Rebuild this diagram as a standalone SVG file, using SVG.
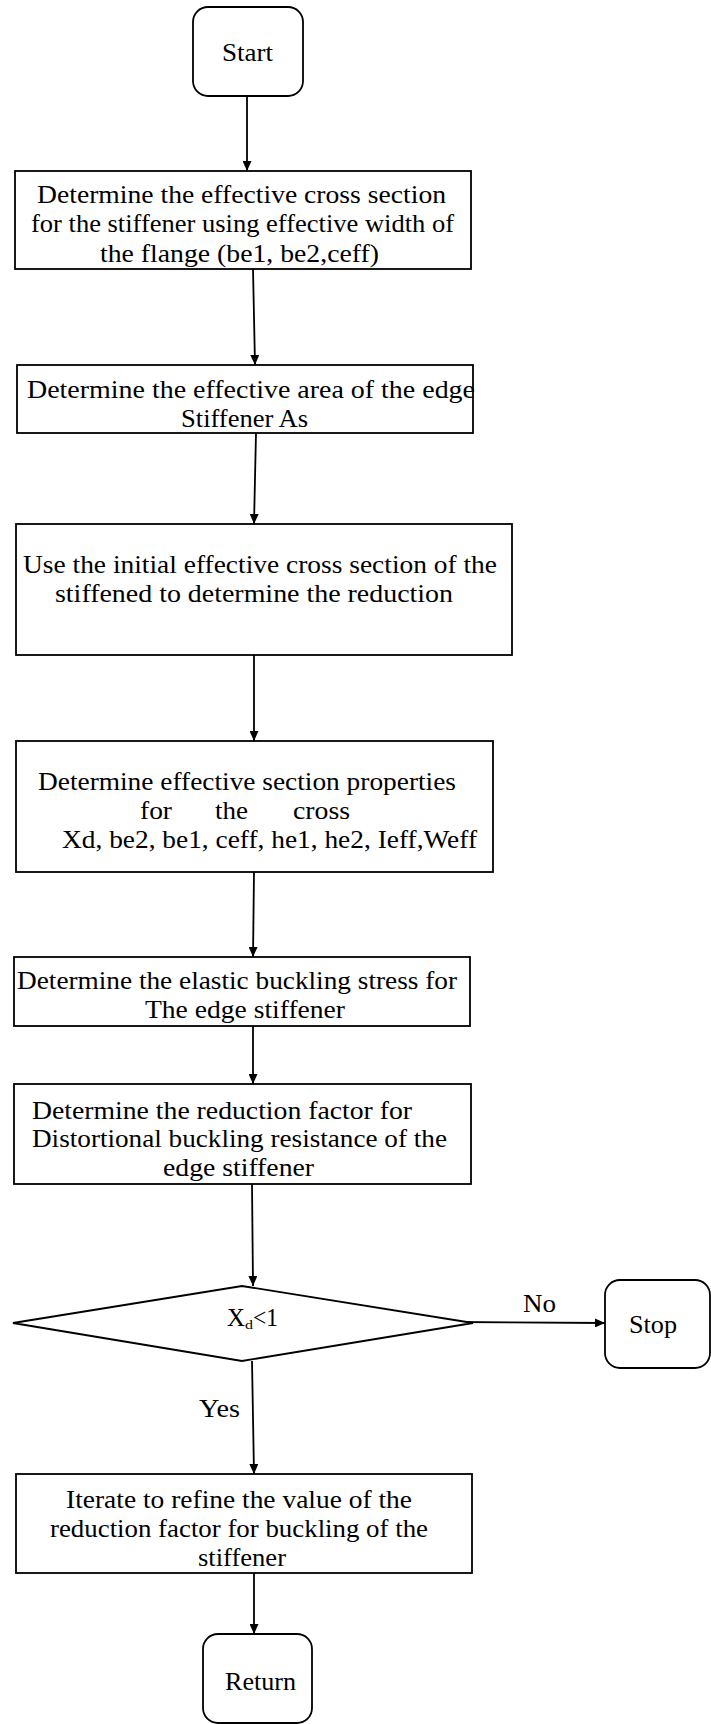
<svg xmlns="http://www.w3.org/2000/svg" width="711" height="1724" viewBox="0 0 711 1724">
  <style>
    .shape { fill: #ffffff; stroke: #000000; stroke-width: 1.8; }
    .edge { fill: none; stroke: #000000; stroke-width: 1.8; }
    text { font-family: "Liberation Serif", "Times New Roman", serif; font-size: 25px; fill: #000000; }
  </style>
  <defs>
    <marker id="arrow" markerUnits="userSpaceOnUse" markerWidth="10" markerHeight="9" refX="10" refY="4.5" orient="auto">
      <path d="M0,0 L10,4.5 L0,9 z" fill="#000000"/>
    </marker>
  </defs>

  <rect width="711" height="1724" fill="#ffffff"/>

  <!-- connectors -->
  <g id="connectors">
    <line class="edge" x1="247" y1="96" x2="247" y2="171" marker-end="url(#arrow)"/>
    <line class="edge" x1="253" y1="269" x2="255" y2="365" marker-end="url(#arrow)"/>
    <line class="edge" x1="256" y1="433" x2="254" y2="524" marker-end="url(#arrow)"/>
    <line class="edge" x1="254" y1="655" x2="254" y2="741" marker-end="url(#arrow)"/>
    <line class="edge" x1="254" y1="872" x2="253" y2="957" marker-end="url(#arrow)"/>
    <line class="edge" x1="253" y1="1026" x2="253" y2="1084" marker-end="url(#arrow)"/>
    <line class="edge" x1="252" y1="1184" x2="253" y2="1286" marker-end="url(#arrow)"/>
    <line class="edge" x1="252" y1="1361" x2="254" y2="1474" marker-end="url(#arrow)"/>
    <line class="edge" x1="455" y1="1322" x2="605" y2="1323" marker-end="url(#arrow)"/>
    <line class="edge" x1="254" y1="1573" x2="254" y2="1634" marker-end="url(#arrow)"/>
    <text x="199" y="1417" textLength="41" lengthAdjust="spacingAndGlyphs">Yes</text>
    <text x="523" y="1312" textLength="33" lengthAdjust="spacingAndGlyphs">No</text>
  </g>

  <g id="start">
    <rect class="shape" x="193" y="7" width="110" height="89" rx="15"/>
    <text x="222" y="61" textLength="51" lengthAdjust="spacingAndGlyphs">Start</text>
  </g>

  <g id="effective-cross-section">
    <rect class="shape" x="15" y="171" width="456" height="98"/>
    <text x="37" y="203" textLength="409" lengthAdjust="spacingAndGlyphs">Determine the effective cross section</text>
    <text x="31" y="232" textLength="423" lengthAdjust="spacingAndGlyphs">for the stiffener using effective width of</text>
    <text x="100" y="262" textLength="279" lengthAdjust="spacingAndGlyphs">the flange (be1, be2,ceff)</text>
  </g>

  <g id="effective-area">
    <rect class="shape" x="17" y="365" width="456" height="68"/>
    <text x="27" y="398" textLength="448" lengthAdjust="spacingAndGlyphs">Determine the effective area of the edge</text>
    <text x="181" y="427" textLength="127" lengthAdjust="spacingAndGlyphs">Stiffener As</text>
  </g>

  <g id="initial-section">
    <rect class="shape" x="16" y="524" width="496" height="131"/>
    <text x="23" y="573" textLength="474" lengthAdjust="spacingAndGlyphs">Use the initial effective cross section of the</text>
    <text x="55" y="602" textLength="398" lengthAdjust="spacingAndGlyphs">stiffened to determine the reduction</text>
  </g>

  <g id="section-properties">
    <rect class="shape" x="16" y="741" width="477" height="131"/>
    <text x="38" y="790" textLength="418" lengthAdjust="spacingAndGlyphs">Determine effective section properties</text>
    <text x="140" y="819" textLength="32" lengthAdjust="spacingAndGlyphs">for</text>
    <text x="215" y="819" textLength="33" lengthAdjust="spacingAndGlyphs">the</text>
    <text x="293" y="819" textLength="57" lengthAdjust="spacingAndGlyphs">cross</text>
    <text x="62" y="848" textLength="415" lengthAdjust="spacingAndGlyphs">Xd, be2, be1, ceff, he1, he2, Ieff,Weff</text>
  </g>

  <g id="elastic-buckling">
    <rect class="shape" x="14" y="957" width="456" height="69"/>
    <text x="17" y="989" textLength="440" lengthAdjust="spacingAndGlyphs">Determine the elastic buckling stress for</text>
    <text x="145" y="1018" textLength="200" lengthAdjust="spacingAndGlyphs">The edge stiffener</text>
  </g>

  <g id="reduction-factor">
    <rect class="shape" x="14" y="1084" width="457" height="100"/>
    <text x="32" y="1119" textLength="380" lengthAdjust="spacingAndGlyphs">Determine the reduction factor for</text>
    <text x="32" y="1147" textLength="415" lengthAdjust="spacingAndGlyphs">Distortional buckling resistance of the</text>
    <text x="163" y="1176" textLength="151" lengthAdjust="spacingAndGlyphs">edge stiffener</text>
  </g>

  <g id="decision">
    <polygon class="shape" points="13,1323 242,1286 473,1323 242,1361"/>
    <text x="227" y="1326" textLength="18" lengthAdjust="spacingAndGlyphs">X</text>
    <text x="245" y="1329" style="font-size:13px" textLength="8" lengthAdjust="spacingAndGlyphs">d</text>
    <text x="253" y="1326" textLength="25" lengthAdjust="spacingAndGlyphs">&lt;1</text>
  </g>

  <g id="stop">
    <rect class="shape" x="605" y="1280" width="105" height="88" rx="15"/>
    <text x="629" y="1333" textLength="48" lengthAdjust="spacingAndGlyphs">Stop</text>
  </g>

  <g id="iterate">
    <rect class="shape" x="16" y="1474" width="456" height="99"/>
    <text x="66" y="1508" textLength="346" lengthAdjust="spacingAndGlyphs">Iterate to refine the value of the</text>
    <text x="50" y="1537" textLength="378" lengthAdjust="spacingAndGlyphs">reduction factor for buckling of the</text>
    <text x="198" y="1566" textLength="88" lengthAdjust="spacingAndGlyphs">stiffener</text>
  </g>

  <g id="return">
    <rect class="shape" x="203" y="1634" width="109" height="89" rx="15"/>
    <text x="225" y="1690" textLength="71" lengthAdjust="spacingAndGlyphs">Return</text>
  </g>
</svg>
